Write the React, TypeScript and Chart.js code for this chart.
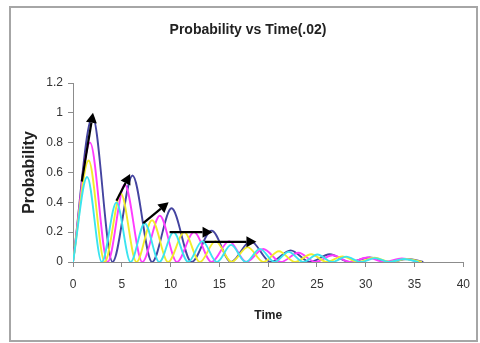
import { useEffect, useRef } from 'react';
import { Chart, registerables } from 'chart.js';

Chart.register(...registerables);

const chartTitle = 'Probability vs Time(.02)';
const xAxisTitle = 'Time';
const yAxisTitle = 'Probability';

const xTicks = [0, 5, 10, 15, 20, 25, 30, 35, 40];
const yTicks = [0, 0.2, 0.4, 0.6, 0.8, 1, 1.2];

// Series 1 (navy)
const navyT = [0, 2.0, 4.05, 6.1, 8.1, 10.1, 12.15, 14.2, 16.2, 18.2, 20.25, 22.3, 24.3, 26.3, 28.35, 30.4, 32.4, 34.3, 35.9];
const navyP = [0, 0.975, 0, 0.58, 0, 0.36, 0, 0.21, 0, 0.14, 0, 0.078, 0, 0.052, 0, 0.03, 0, 0.02, 0];

// Series 2 (magenta)
const magentaT = [0, 1.75, 3.55, 5.3, 7.1, 8.9, 10.65, 12.4, 14.2, 16.0, 17.75, 19.5, 21.3, 23.1, 24.85, 26.6, 28.4, 30.2, 31.95, 33.7, 35.5];
const magentaP = [0, 0.8, 0, 0.52, 0, 0.31, 0, 0.2, 0, 0.14, 0, 0.087, 0, 0.062, 0, 0.045, 0, 0.03, 0, 0.024, 0];

// Series 3 (yellow)
const yellowT = [0, 1.6, 3.25, 4.9, 6.5, 8.1, 9.75, 11.4, 13.0, 14.6, 16.25, 17.9, 19.5, 21.1, 22.75, 24.4, 26.0, 27.6, 29.25, 30.9, 32.5, 34.1, 35.75];
const yellowP = [0, 0.68, 0, 0.46, 0, 0.28, 0, 0.2, 0, 0.14, 0, 0.1, 0, 0.072, 0, 0.052, 0, 0.038, 0, 0.028, 0, 0.02, 0];

// Series 4 (cyan)
const cyanT = [0, 1.45, 2.95, 4.45, 5.9, 7.35, 8.85, 10.3, 11.8, 13.25, 14.75, 16.2, 17.7, 19.15, 20.65, 22.1, 23.6, 25.05, 26.55, 28.0, 29.5, 30.95, 32.45, 33.9, 35.4];
const cyanP = [0, 0.57, 0, 0.4, 0, 0.26, 0, 0.2, 0, 0.14, 0, 0.115, 0, 0.088, 0, 0.068, 0, 0.05, 0, 0.036, 0, 0.026, 0, 0.02, 0];

// Arrows (start -> end, data units)
const arrowX0 = [0.9, 4.45, 7.2, 9.9, 13.5];
const arrowY0 = [0.54, 0.41, 0.26, 0.2, 0.135];
const arrowX1 = [2.05, 5.85, 9.8, 14.3, 18.8];
const arrowY1 = [1.0, 0.59, 0.4, 0.2, 0.135];

const FONT = "'Liberation Sans', Arial, sans-serif";

function pts(t: number[], p: number[]) {
  return t.map((x, i) => ({ x, y: p[i] }));
}

const framePlugin = {
  id: 'frameAndTitle',
  beforeDraw(chart: any) {
    const ctx = chart.ctx;
    ctx.save();
    ctx.fillStyle = '#ffffff';
    ctx.fillRect(0, 0, chart.width, chart.height);
    ctx.strokeStyle = '#a6a6a6';
    ctx.lineWidth = 2;
    ctx.strokeRect(10, 7, 467, 334);
    ctx.fillStyle = '#222222';
    ctx.font = `bold 14px ${FONT}`;
    ctx.textAlign = 'center';
    ctx.textBaseline = 'middle';
    ctx.fillText(chartTitle, 248, 30);
    ctx.restore();
  },
};

const arrowPlugin = {
  id: 'arrows',
  afterDatasetsDraw(chart: any) {
    const ctx = chart.ctx;
    const xs = chart.scales.x;
    const ys = chart.scales.y;
    ctx.save();
    ctx.strokeStyle = '#000000';
    ctx.fillStyle = '#000000';
    ctx.lineWidth = 2.2;
    for (let i = 0; i < arrowX0.length; i++) {
      const x0 = xs.getPixelForValue(arrowX0[i]);
      const y0 = ys.getPixelForValue(arrowY0[i]);
      const x1 = xs.getPixelForValue(arrowX1[i]);
      const y1 = ys.getPixelForValue(arrowY1[i]);
      const ang = Math.atan2(y1 - y0, x1 - x0);
      const hl = 10;
      const hw = 5.5;
      const bx = x1 - hl * Math.cos(ang);
      const by = y1 - hl * Math.sin(ang);
      ctx.beginPath();
      ctx.moveTo(x0, y0);
      ctx.lineTo(bx, by);
      ctx.stroke();
      ctx.beginPath();
      ctx.moveTo(x1, y1);
      ctx.lineTo(bx + hw * Math.sin(ang), by - hw * Math.cos(ang));
      ctx.lineTo(bx - hw * Math.sin(ang), by + hw * Math.cos(ang));
      ctx.closePath();
      ctx.fill();
    }
    ctx.restore();
  },
};

export default function App() {
  const ref = useRef<HTMLCanvasElement | null>(null);

  useEffect(() => {
    if (!ref.current) return;
    const common = {
      pointRadius: 0,
      borderWidth: 1.9,
      fill: false,
      cubicInterpolationMode: 'monotone' as const,
    };
    const chart = new Chart(ref.current, {
      type: 'line',
      data: {
        datasets: [
          { label: 'cyan', data: pts(cyanT, cyanP), borderColor: '#3ae4f0', ...common },
          { label: 'yellow', data: pts(yellowT, yellowP), borderColor: '#f2ec2a', ...common },
          { label: 'magenta', data: pts(magentaT, magentaP), borderColor: '#ff3cff', ...common },
          { label: 'navy', data: pts(navyT, navyP), borderColor: '#4444a0', ...common },
        ],
      },
      options: {
        responsive: false,
        animation: false,
        devicePixelRatio: 1,
        layout: { padding: { left: 0, top: 83, right: 14, bottom: 0 } },
        plugins: {
          legend: { display: false },
          tooltip: { enabled: false },
          title: { display: false },
        },
        scales: {
          x: {
            type: 'linear',
            min: 0,
            max: 40,
            afterBuildTicks: (s: any) => {
              s.ticks = xTicks.map((v) => ({ value: v }));
            },
            afterFit: (s: any) => {
              s.height = 81;
            },
            ticks: {
              autoSkip: false,
              maxRotation: 0,
              padding: 10,
              color: '#333333',
              font: { family: FONT, size: 12 },
              callback: (v: any) => String(v),
            },
            grid: { drawOnChartArea: false, drawTicks: true, tickLength: 5, color: '#8c8c8c' },
            border: { display: true, color: '#8c8c8c', width: 1 },
            title: {
              display: true,
              text: xAxisTitle,
              color: '#222222',
              font: { family: FONT, size: 12, weight: 'bold' },
              padding: { top: 0, bottom: 20 },
            },
          },
          y: {
            type: 'linear',
            min: 0,
            max: 1.2,
            afterBuildTicks: (s: any) => {
              s.ticks = yTicks.map((v) => ({ value: v }));
            },
            afterFit: (s: any) => {
              s.width = 73;
            },
            ticks: {
              autoSkip: false,
              padding: 5,
              color: '#333333',
              font: { family: FONT, size: 12 },
              callback: (v: any) => String(v),
            },
            grid: { drawOnChartArea: false, drawTicks: true, tickLength: 5, color: '#8c8c8c' },
            border: { display: true, color: '#8c8c8c', width: 1 },
            title: {
              display: true,
              text: yAxisTitle,
              color: '#222222',
              font: { family: FONT, size: 16, weight: 'bold' },
              padding: { top: 20, bottom: 0 },
            },
          },
        },
      },
      plugins: [framePlugin, arrowPlugin],
    });
    return () => chart.destroy();
  }, []);

  return (
    <div style={{ position: 'absolute', left: 0, top: 0, width: 480, height: 343, background: '#fff' }}>
      <canvas ref={ref} width={480} height={343} style={{ display: 'block', width: 480, height: 343 }} />
    </div>
  );
}
